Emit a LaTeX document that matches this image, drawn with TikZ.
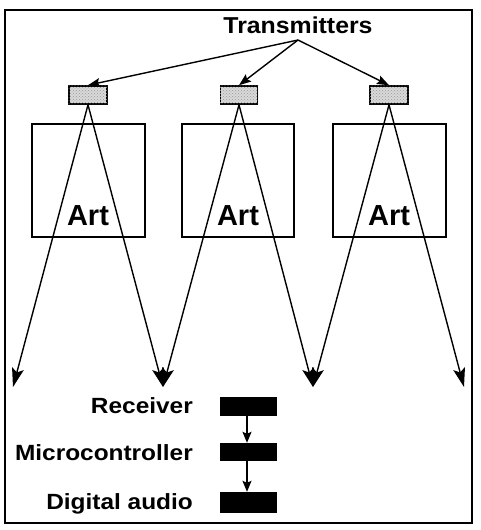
\documentclass[tikz,border=0pt]{standalone}
\usepackage{fontspec}
\setmainfont{Liberation Sans}
\usetikzlibrary{arrows.meta,patterns}
\begin{document}
\begin{tikzpicture}[x=1pt,y=-1pt,
  frame/.style={draw,line width=1.6pt},
  artbox/.style={draw,line width=1.5pt},
  txbox/.style={draw,line width=1.6pt,fill=gray!30},
  blk/.style={fill=black},
  ray/.style={line width=1.4pt,-{Stealth[length=19pt,width=12pt,inset=4pt]}},
  txarrow/.style={line width=1.4pt,-{Stealth[length=12pt,width=9pt,inset=2pt]}},
  chain/.style={line width=1.4pt,-{Stealth[length=11pt,width=9pt,inset=2pt]}},
  lbl/.style={font=\fontsize{22}{22}\selectfont\bfseries,anchor=base east,inner sep=0pt},
  arttxt/.style={font=\fontsize{29}{29}\selectfont\bfseries,anchor=base,inner sep=0pt}]
\useasboundingbox (0,0) rectangle (481,530);
\draw[frame] (5,10) rectangle (472,523);
% transmitters label
\node[font=\fontsize{23}{23}\selectfont\bfseries,anchor=base,inner sep=0pt] (tl) at (298,33) {\scalebox{1.08}[1]{Transmitters}};
\coordinate (tx) at (298,40);
% transmitter boxes
\node[txbox,minimum width=38pt,minimum height=18pt,inner sep=0pt] (t1) at (88,95) {};
\node[txbox,minimum width=37pt,minimum height=18pt,inner sep=0pt] (t2) at (239,95) {};
\node[txbox,minimum width=38pt,minimum height=18pt,inner sep=0pt] (t3) at (389,95) {};
\fill[pattern=crosshatch dots,pattern color=gray!80] (t1.south west) rectangle (t1.north east);
\fill[pattern=crosshatch dots,pattern color=gray!80] (t2.south west) rectangle (t2.north east);
\fill[pattern=crosshatch dots,pattern color=gray!80] (t3.south west) rectangle (t3.north east);
\draw[txarrow] (tx) -- (t1.north);
\draw[txarrow] (tx) -- (t2.north);
\draw[txarrow] (tx) -- (t3.north);
% art boxes
\node[artbox,minimum width=113pt,minimum height=113pt,inner sep=0pt] (a1) at (88.5,180.5) {};
\node[artbox,minimum width=112pt,minimum height=113pt,inner sep=0pt] (a2) at (238,180.5) {};
\node[artbox,minimum width=113pt,minimum height=113pt,inner sep=0pt] (a3) at (389.5,180.5) {};
\node[arttxt] (l1) at (88,225) {Art};
\node[arttxt] (l2) at (238,225) {Art};
\node[arttxt] (l3) at (389,225) {Art};
% ray end points
\coordinate (e1) at (13,387);
\coordinate (e2) at (163,387);
\coordinate (e3) at (313,387);
\coordinate (e4) at (464,387);
\draw[ray] (t1.south) -- (e1);
\draw[ray] (t1.south) -- (e2);
\draw[ray] (t2.south) -- (e2);
\draw[ray] (t2.south) -- (e3);
\draw[ray] (t3.south) -- (e3);
\draw[ray] (t3.south) -- (e4);
% receiver chain
\node[blk,minimum width=57pt,minimum height=19pt,inner sep=0pt] (r) at (248.5,406.5) {};
\node[blk,minimum width=57pt,minimum height=18pt,inner sep=0pt] (m) at (248.5,452) {};
\node[blk,minimum width=57pt,minimum height=21pt,inner sep=0pt] (d) at (248.5,502.5) {};
\draw[chain] (r.south -| 247,0) -- (m.north -| 247,0);
\draw[chain] (m.south -| 247,0) -- (d.north -| 247,0);
\node[lbl] (rl) at (193,413) {\scalebox{1.11}[1]{Receiver}};
\node[lbl] (ml) at (193,460) {\scalebox{1.11}[1]{Microcontroller}};
\node[lbl] (dl) at (193,509) {\scalebox{1.11}[1]{Digital audio}};
\end{tikzpicture}
\end{document}
